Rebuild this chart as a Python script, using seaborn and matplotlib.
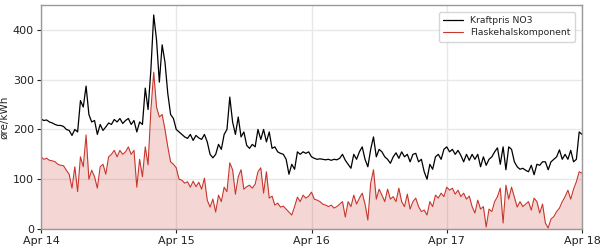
import numpy as np
import pandas as pd
import matplotlib
matplotlib.use("Agg")
import matplotlib.pyplot as plt
import matplotlib.dates as mdates
import seaborn as sns

# Half-hourly values, Apr 14 00:00 -> Apr 18 00:00
kraftpris = [
    221, 218, 219, 215, 213, 210, 208, 208, 206, 200, 198, 188, 200, 195, 258, 245,
    287, 230, 215, 218, 190, 210, 198, 205, 213, 210, 220, 215, 222, 212, 218, 222,
    210, 218, 195, 215, 210, 283, 240, 320, 430, 380, 295, 370, 335, 272, 230, 222,
    200, 195, 190, 185, 182, 190, 178, 188, 183, 180, 190, 175, 150, 143, 150, 170,
    160, 190, 200, 265, 215, 190, 225, 185, 195, 168, 162, 170, 165, 200, 180, 200,
    175, 195, 162, 165, 155, 152, 150, 140, 110, 130, 120, 155, 150, 155, 152, 155,
    145, 142, 140, 141, 140, 139, 140, 138, 140, 139, 142, 150, 138, 130, 122, 150,
    140, 155, 165, 140, 125, 160, 185, 145, 160, 155, 145, 140, 132, 145, 153, 142,
    155, 145, 150, 135, 150, 152, 135, 140, 115, 100, 130, 120, 145, 150, 140, 160,
    165, 155, 160, 150, 158, 148, 135, 150, 138, 150, 140, 150, 125, 145, 128, 140,
    145, 155, 163, 130, 165, 119, 165, 160, 135, 125, 120, 122, 118, 115, 128, 109,
    130, 128, 135, 135, 119, 135, 140, 145, 159, 140, 150, 140, 158, 135, 140, 195,
    190,
]
flaskehals = [
    145, 140, 142, 138, 137, 135, 130, 128, 127, 118, 110, 82, 125, 75, 145, 125,
    189, 100, 118, 105, 82, 125, 130, 110, 145, 150, 158, 145, 158, 150, 155, 165,
    150, 158, 84, 140, 105, 165, 129, 239, 315, 245, 225, 230, 200, 165, 135, 130,
    123, 100, 98, 92, 95, 84, 96, 85, 94, 80, 102, 58, 44, 60, 34, 68,
    55, 84, 75, 133, 119, 70, 105, 119, 80, 85, 88, 82, 90, 115, 123, 72,
    115, 62, 66, 48, 52, 44, 46, 40, 34, 28, 45, 64, 55, 68, 62, 66,
    74, 60, 58, 55, 50, 48, 45, 48, 42, 45, 50, 55, 24, 55, 45, 68,
    50, 62, 72, 50, 18, 92, 119, 60, 80, 68, 55, 80, 60, 65, 55, 82,
    55, 45, 70, 40, 55, 62, 45, 35, 38, 28, 55, 45, 68, 62, 72, 65,
    84, 78, 82, 70, 78, 65, 72, 60, 66, 45, 32, 58, 40, 45, 4, 40,
    35, 55, 65, 82, 12, 88, 60, 84, 64, 44, 55, 45, 50, 55, 38, 62,
    55, 32, 50, 12, 2, 20, 25, 35, 42, 55, 65, 78, 60, 80, 95, 115,
    112,
]
start = "2024-04-14 00:00"
labels = ["Kraftpris NO3", "Flaskehalskomponent"]
ylabel = "øre/kWh"

times = pd.date_range(start, periods=len(kraftpris), freq="30min")
df = pd.DataFrame({"time": times, "kraft": kraftpris, "flask": flaskehals})

sns.set_theme(style="whitegrid")
plt.rcParams.update({
    "font.family": ["DejaVu Sans"],
    "axes.edgecolor": "#999999",
    "axes.linewidth": 1.0,
    "grid.color": "#e8e8e8",
    "xtick.bottom": True,
    "ytick.left": True,
    "xtick.color": "#222222",
    "ytick.color": "#222222",
})

fig = plt.figure(figsize=(6.06, 2.5), dpi=100)
ax = fig.add_axes([41/606, 1-229/250, (582-41)/606, (229-5)/250])

red = "#c8372d"
sns.lineplot(data=df, x="time", y="kraft", ax=ax, color="black", lw=0.9, label=labels[0])
sns.lineplot(data=df, x="time", y="flask", ax=ax, color=red, lw=0.8, label=labels[1])
ax.fill_between(df["time"], 0, df["flask"], color=red, alpha=0.2, lw=0)

ax.set_xlim(pd.Timestamp("2024-04-14"), pd.Timestamp("2024-04-18"))
ax.set_ylim(0, 450)
ax.set_yticks([0, 100, 200, 300, 400])
ax.xaxis.set_major_locator(mdates.DayLocator())
ax.xaxis.set_major_formatter(mdates.DateFormatter("%b %d"))
ax.set_xlabel("")
ax.set_ylabel(ylabel, fontsize=7.5, color="#222222")
ax.yaxis.set_label_coords(-0.058, 0.5)
ax.tick_params(axis="both", labelsize=8, length=3, width=0.8, pad=2, colors="#222222")
for s in ax.spines.values():
    s.set_color("#999999")

leg = ax.legend(loc="upper right", fontsize=6.7, frameon=True, handlelength=2.1,
                borderpad=0.45, labelspacing=0.35, fancybox=True,
                bbox_to_anchor=(0.995, 0.99))
leg.get_frame().set_edgecolor("#cccccc")

fig.savefig("out.png", dpi=100)
